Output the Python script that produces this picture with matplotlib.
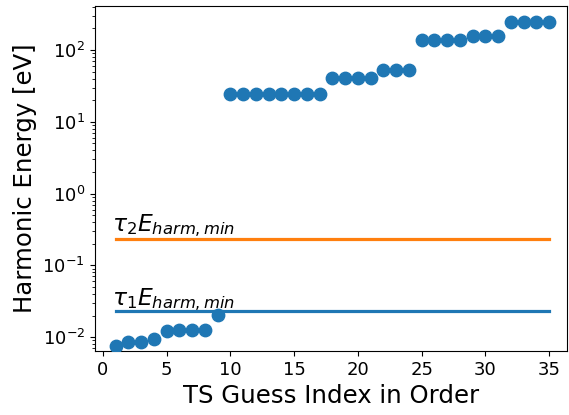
import matplotlib
matplotlib.use("Agg")
import matplotlib.pyplot as plt
import numpy as np

idx = list(range(1, 36))
energies = [0.0075, 0.0086, 0.0085, 0.0093, 0.0121, 0.0125, 0.0125, 0.0127, 0.0205,
            24.6, 24.6, 24.6, 24.6, 24.6, 24.6, 24.6, 24.6,
            41.1, 41.1, 41.1, 41.1,
            53.1, 53.1, 53.1,
            139, 139, 139, 139,
            158, 158, 158,
            243, 243, 243, 243]
tau1_emin = 0.023
tau2_emin = 0.23
tau1_label = r'$\tau_1E_{harm,min}$'
tau2_label = r'$\tau_2E_{harm,min}$'

fig = plt.figure(figsize=(5.69, 4.15), dpi=100)
ax = fig.add_axes([0.1664, 0.154, 0.8301, 0.8316])

ax.plot([idx[0], idx[-1]], [tau1_emin, tau1_emin], color='#1f77b4', lw=2.3, zorder=2)
ax.plot([idx[0], idx[-1]], [tau2_emin, tau2_emin], color='#ff7f0e', lw=2.3, zorder=2)
ax.scatter(idx, energies, s=80, color='#1f77b4', zorder=3)

ax.text(0.72, 0.0279, tau1_label, fontsize=16.8, ha='left', va='baseline')
ax.text(0.72, 0.30, tau2_label, fontsize=16.8, ha='left', va='baseline')

ax.set_yscale('log')
ax.set_ylim(0.0064, 410)
ax.set_xlim(-0.65, 36.4)
ax.set_xticks([0, 5, 10, 15, 20, 25, 30, 35])
ax.tick_params(axis='both', labelsize=13)
ax.set_xlabel('TS Guess Index in Order', fontsize=17.6)
ax.set_ylabel('Harmonic Energy [eV]', fontsize=17.6)

fig.savefig('out.png', dpi=100)
